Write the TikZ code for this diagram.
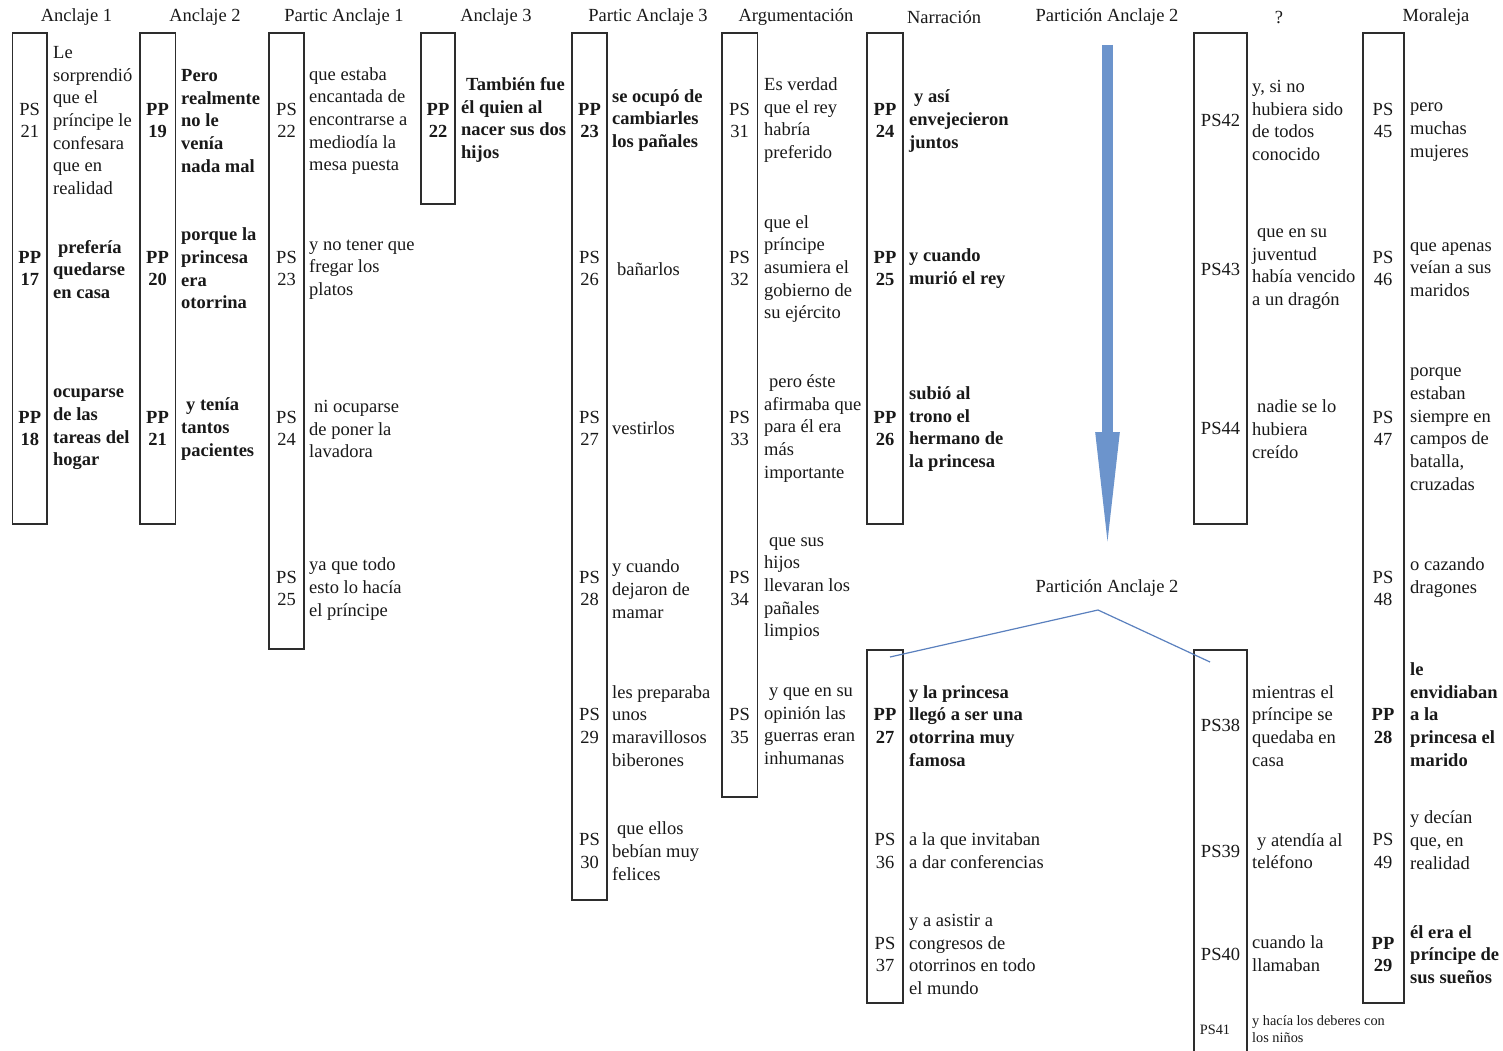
\documentclass[tikz,border=0pt]{standalone}
\usepackage{fontspec}
\setmainfont{Liberation Serif}
\usetikzlibrary{arrows.meta}

\definecolor{ink}{RGB}{25,25,25}
\definecolor{frame}{RGB}{45,45,45}
\definecolor{arrowblue}{RGB}{108,148,204}
\definecolor{forkblue}{RGB}{90,128,190}

\newcommand{\txtfont}{\fontsize{18.5}{22.7}\selectfont}
\newcommand{\ind}{\hspace*{5pt}}

\tikzset{
  lbl/.style={font=\txtfont, text=ink, inner sep=0pt, align=left, yshift=-1.5pt},
  colhead/.style={lbl, align=center},
  tagn/.style={lbl, align=center},
  tagb/.style={tagn, font=\txtfont\bfseries},
  seg/.style={lbl, anchor=west},
  segb/.style={seg, font=\txtfont\bfseries},
  segs/.style={seg, font=\fontsize{14.3}{17}\selectfont},
  column/.style={draw=frame, line width=1.2pt},
  fork/.style={draw=forkblue, line width=1.2pt},
}

\begin{document}
\begin{tikzpicture}[x=1pt, y=-1pt]
\useasboundingbox[fill=white] (0,0) rectangle (1503,1051);

% column headings
\node[colhead] (h1) at (76.5,16) {Anclaje 1};
\node[colhead] (h2) at (205,16) {Anclaje 2};
\node[colhead] (h3) at (344,16) {Partic Anclaje 1};
\node[colhead] (h4) at (496,16) {Anclaje 3};
\node[colhead] (h5) at (648,16) {Partic Anclaje 3};
\node[colhead] (h6) at (796,16) {Argumentación};
\node[colhead] (h7) at (944,16) {Narración};
\node[colhead] (h8) at (1107,16) {Partición Anclaje 2};
\node[colhead] (h9) at (1279,16) {?};
\node[colhead] (h10) at (1436,16) {Moraleja};

% column frames
\draw[column] (12.5,33) rectangle (47,524);
\draw[column] (140,33) rectangle (175.5,524);
\draw[column] (269,33) rectangle (304,649);
\draw[column] (421,33) rectangle (455,204);
\draw[column] (572,33) rectangle (607,900);
\draw[column] (722,33) rectangle (757.5,797);
\draw[column] (867,33) rectangle (903,524);
\draw[column] (867,650) rectangle (903,1003);
\draw[column] (1194,33) rectangle (1247,524);
\draw[column] (1194,1053) -- (1194,650) -- (1247,650) -- (1247,1053);
\draw[column] (1363,33) rectangle (1404,1003);

% Anclaje 1
\node[tagn] (ps21) at (29.75,119) {PS\\21};
\node[seg] (t21) at (53,119) {Le\\sorprendió\\que el\\príncipe le\\confesara\\que en\\realidad};
\node[tagb] (pp17) at (29.75,267) {PP\\17};
\node[segb] (t17) at (53,268) {\ind prefería\\quedarse\\en casa};
\node[tagb] (pp18) at (29.75,427) {PP\\18};
\node[segb] (t18) at (53,428) {ocuparse\\de las\\tareas del\\hogar};

% Anclaje 2
\node[tagb] (pp19) at (157.5,119) {PP\\19};
\node[segb] (t19) at (181,119.5) {Pero\\realmente\\no le\\venía\\nada mal};
\node[tagb] (pp20) at (157.5,267) {PP\\20};
\node[segb] (t20) at (181,267) {porque la\\princesa\\era\\otorrina};
\node[tagb] (pp21) at (157.5,427) {PP\\21};
\node[segb] (t21b) at (181,427.5) {\ind y tenía\\tantos\\pacientes};

% Partic Anclaje 1
\node[tagn] (ps22) at (286.5,119) {PS\\22};
\node[seg] (t22) at (309,119.5) {que estaba\\encantada de\\encontrarse a\\mediodía la\\mesa puesta};
\node[tagn] (ps23) at (286.5,267) {PS\\23};
\node[seg] (t23) at (309,268) {y no tener que\\fregar los\\platos};
\node[tagn] (ps24) at (286.5,427) {PS\\24};
\node[seg] (t24) at (309,427.5) {\ind ni ocuparse\\de poner la\\lavadora};
\node[tagn] (ps25) at (286.5,587) {PS\\25};
\node[seg] (t25) at (309,587.5) {ya que todo\\esto lo hacía\\el príncipe};

% Anclaje 3
\node[tagb] (pp22) at (438,119) {PP\\22};
\node[segb] (t22b) at (461,118.5) {\ind También fue\\él quien al\\nacer sus dos\\hijos};

% Partic Anclaje 3
\node[tagb] (pp23) at (589.5,119) {PP\\23};
\node[segb] (t23b) at (612,119) {se ocupó de\\cambiarles\\los pañales};
\node[tagn] (ps26) at (589.5,267) {PS\\26};
\node[seg] (t26) at (612,268) {\ind bañarlos};
\node[tagn] (ps27) at (589.5,427) {PS\\27};
\node[seg] (t27) at (612,427) {vestirlos};
\node[tagn] (ps28) at (589.5,587) {PS\\28};
\node[seg] (t28) at (612,587.5) {y cuando\\dejaron de\\mamar};
\node[tagn] (ps29) at (589.5,724.5) {PS\\29};
\node[seg] (t29) at (612,724.5) {les preparaba\\unos\\maravillosos\\biberones};
\node[tagn] (ps30) at (589.5,849.5) {PS\\30};
\node[seg] (t30) at (612,849.5) {\ind que ellos\\bebían muy\\felices};

% Argumentación
\node[tagn] (ps31) at (739.5,119) {PS\\31};
\node[seg] (t31) at (764,118.5) {Es verdad\\que el rey\\habría\\preferido};
\node[tagn] (ps32) at (739.5,267) {PS\\32};
\node[seg] (t32) at (764,267.5) {que el\\príncipe\\asumiera el\\gobierno de\\su ejército};
\node[tagn] (ps33) at (739.5,427) {PS\\33};
\node[seg] (t33) at (764,427) {\ind pero éste\\afirmaba que\\para él era\\más\\importante};
\node[tagn] (ps34) at (739.5,587) {PS\\34};
\node[seg] (t34) at (764,587.5) {\ind que sus\\hijos\\llevaran los\\pañales\\limpios};
\node[tagn] (ps35) at (739.5,724.5) {PS\\35};
\node[seg] (t35) at (764,724.5) {\ind y que en su\\opinión las\\guerras eran\\inhumanas};

% Narración
\node[tagb] (pp24) at (885,119) {PP\\24};
\node[segb] (t24b) at (909,119.5) {\ind y así\\envejecieron\\juntos};
\node[tagb] (pp25) at (885,267) {PP\\25};
\node[segb] (t25b) at (909,267) {y cuando\\murió el rey};
\node[tagb] (pp26) at (885,427) {PP\\26};
\node[segb] (t26b) at (909,427.5) {subió al\\trono el\\hermano de\\la princesa};

% Partición Anclaje 2: arrow and fork
\coordinate (arrtop) at (1107.5,45);
\coordinate (arrtip) at (1107.5,561);
\draw[arrowblue, line width=11.5pt, -{Triangle[length=129pt, width=21pt]}] (arrtop) -- (arrtip);
\node[colhead] (h8b) at (1107,587) {Partición Anclaje 2};
\coordinate (apex) at (1098,610);
\coordinate (legl) at (890,657);
\coordinate (legr) at (1210,662);
\draw[fork] (legl) -- (apex) -- (legr);

% lower Narración column
\node[tagb] (pp27) at (885,724.5) {PP\\27};
\node[segb] (t27b) at (909,724.5) {y la princesa\\llegó a ser una\\otorrina muy\\famosa};
\node[tagn] (ps36) at (885,849.5) {PS\\36};
\node[seg] (t36) at (909,849.5) {a la que invitaban\\a dar conferencias};
\node[tagn] (ps37) at (885,953) {PS\\37};
\node[seg] (t37) at (909,953) {y a asistir a\\congresos de\\otorrinos en todo\\el mundo};

% ? column
\node[tagn] (ps42) at (1220.5,119) {PS42};
\node[seg] (t42) at (1252,119) {y, si no\\hubiera sido\\de todos\\conocido};
\node[tagn] (ps43) at (1220.5,267.5) {PS43};
\node[seg] (t43) at (1252,267.5) {\ind que en su\\juventud\\había vencido\\a un dragón};
\node[tagn] (ps44) at (1220.5,427) {PS44};
\node[seg] (t44) at (1252,427.5) {\ind nadie se lo\\hubiera\\creído};

% lower ? column
\node[tagn] (ps38) at (1220.5,724) {PS38};
\node[seg] (t38) at (1252,724.5) {mientras el\\príncipe se\\quedaba en\\casa};
\node[tagn] (ps39) at (1220.5,850) {PS39};
\node[seg] (t39) at (1252,849.5) {\ind y atendía al\\teléfono};
\node[tagn] (ps40) at (1220.5,953) {PS40};
\node[seg] (t40) at (1252,952.5) {cuando la\\llamaban};
\node[tagn, font=\fontsize{14.3}{17}\selectfont] (ps41) at (1215,1028) {PS41};
\node[segs] (t41) at (1252,1027.5) {y hacía los deberes con\\los niños};

% Moraleja
\node[tagn] (ps45) at (1383,119) {PS\\45};
\node[seg] (t45) at (1410,130.5) {pero\\muchas\\mujeres};
\node[tagn] (ps46) at (1383,267) {PS\\46};
\node[seg] (t46) at (1410,268) {que apenas\\veían a sus\\maridos};
\node[tagn] (ps47) at (1383,427) {PS\\47};
\node[seg] (t47) at (1410,427.5) {porque\\estaban\\siempre en\\campos de\\batalla,\\cruzadas};
\node[tagn] (ps48) at (1383,587) {PS\\48};
\node[seg] (t48) at (1410,576) {o cazando\\dragones};
\node[tagb] (pp28) at (1383,724.5) {PP\\28};
\node[segb] (t28b) at (1410,713) {le\\envidiaban\\a la\\princesa el\\marido};
\node[tagn] (ps49) at (1383,849.5) {PS\\49};
\node[seg] (t49) at (1410,838.5) {y decían\\que, en\\realidad};
\node[tagb] (pp29) at (1383,953) {PP\\29};
\node[segb] (t29b) at (1410,953) {él era el\\príncipe de\\sus sueños};
\end{tikzpicture}
\end{document}
